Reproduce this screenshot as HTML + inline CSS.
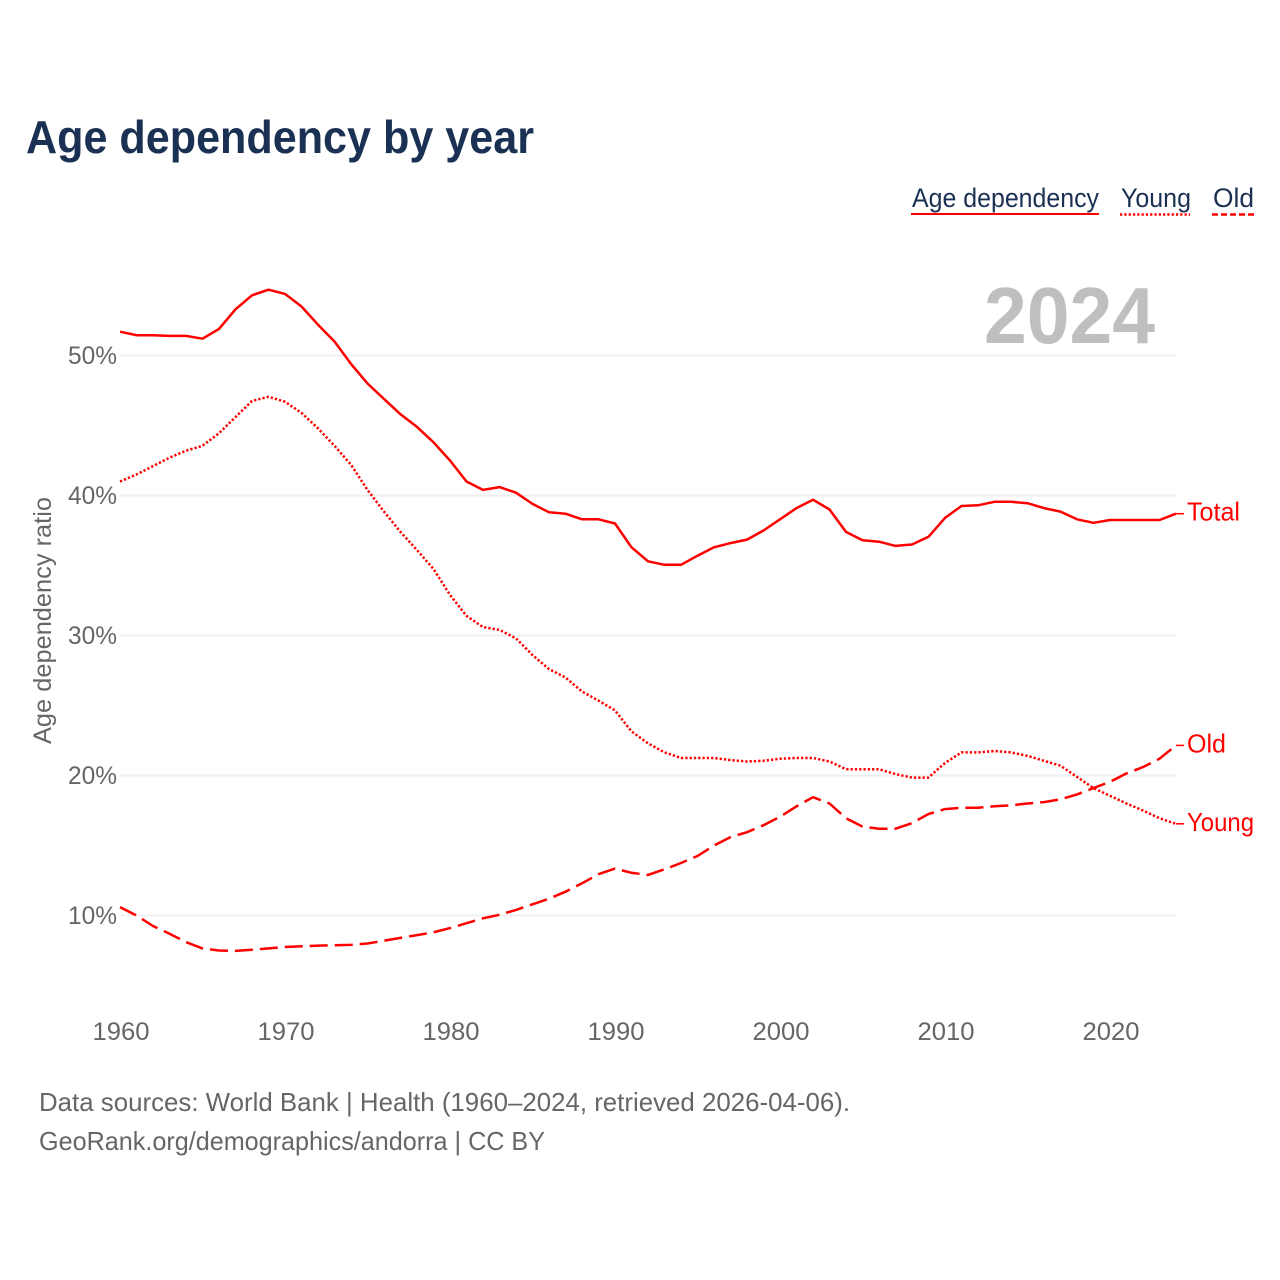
<!DOCTYPE html>
<html lang="en">
<head>
<meta charset="utf-8">
<title>Age dependency by year</title>
<style>
html,body{margin:0;padding:0;background:#fff;width:1280px;height:1280px;overflow:hidden}
svg{display:block}
text{font-family:"Liberation Sans",sans-serif}
</style>
</head>
<body>
<svg id="chart" width="1280" height="1280" viewBox="0 0 1280 1280" xmlns="http://www.w3.org/2000/svg">
  <text x="26" y="153" font-size="46" font-weight="700" fill="#1a3153" textLength="508" lengthAdjust="spacingAndGlyphs">Age dependency by year</text>

  <g font-size="27" fill="#1a3153">
    <g>
      <text x="912" y="207" textLength="187" lengthAdjust="spacingAndGlyphs">Age dependency</text>
      <line x1="911" y1="214" x2="1099" y2="214" stroke="#ff0000" stroke-width="2"/>
    </g>
    <g>
      <text x="1121" y="207" textLength="70" lengthAdjust="spacingAndGlyphs">Young</text>
      <line x1="1120" y1="214.500" x2="1190" y2="214.500" stroke="#ff0000" stroke-width="2.5" stroke-dasharray="2.3 2"/>
    </g>
    <g>
      <text x="1213" y="207" textLength="41" lengthAdjust="spacingAndGlyphs">Old</text>
      <line x1="1212" y1="214.500" x2="1254" y2="214.500" stroke="#ff0000" stroke-width="2.5" stroke-dasharray="6 3"/>
    </g>
  </g>

  <g id="grid"></g>
  <text x="1155" y="343" text-anchor="end" font-size="80" font-weight="700" fill="#bfbfbf" textLength="171" lengthAdjust="spacingAndGlyphs">2024</text>
  <g id="yticks"></g>
  <g id="xticks"></g>
  <text transform="translate(51 620.500) rotate(-90)" text-anchor="middle" font-size="25" fill="#666666" textLength="247" lengthAdjust="spacingAndGlyphs">Age dependency ratio</text>
  <g id="series"></g>

  <text x="39" y="1111" font-size="26" fill="#666666" textLength="811" lengthAdjust="spacingAndGlyphs">Data sources: World Bank | Health (1960–2024, retrieved 2026-04-06).</text>
  <text x="39" y="1150" font-size="26" fill="#666666" textLength="506" lengthAdjust="spacingAndGlyphs">GeoRank.org/demographics/andorra | CC BY</text>
</svg>
<script>
const firstYear = 1960;
const totalValues = [51.7,51.45,51.45,51.4,51.4,51.2,51.9,53.3,54.3,54.7,54.4,53.5,52.2,51,49.4,48,46.9,45.8,44.9,43.8,42.5,41,40.4,40.6,40.2,39.4,38.8,38.7,38.3,38.3,38,36.3,35.3,35.05,35.05,35.7,36.3,36.6,36.85,37.5,38.3,39.1,39.7,39,37.4,36.8,36.7,36.4,36.5,37.05,38.4,39.25,39.3,39.55,39.55,39.45,39.1,38.85,38.3,38.05,38.25,38.25,38.25,38.25,38.7];
const youngValues = [41,41.5,42.1,42.7,43.2,43.55,44.45,45.6,46.75,47.05,46.7,45.9,44.8,43.55,42.2,40.4,38.85,37.4,36.1,34.75,32.9,31.4,30.6,30.4,29.8,28.6,27.6,27,26,25.35,24.65,23.15,22.3,21.65,21.25,21.25,21.25,21.1,21,21.05,21.2,21.25,21.25,21,20.45,20.45,20.45,20.1,19.85,19.85,20.9,21.65,21.65,21.75,21.65,21.4,21.05,20.7,19.9,19.1,18.55,18,17.5,16.95,16.55];
const oldValues = [10.6,10,9.25,8.7,8.1,7.65,7.5,7.47,7.55,7.65,7.75,7.8,7.85,7.87,7.9,8,8.2,8.4,8.6,8.8,9.1,9.45,9.8,10.05,10.4,10.8,11.2,11.7,12.3,12.95,13.35,13.05,12.9,13.3,13.75,14.25,15,15.6,15.95,16.45,17.05,17.8,18.45,18,16.95,16.35,16.2,16.2,16.6,17.25,17.6,17.7,17.7,17.8,17.87,18,18.1,18.3,18.65,19.1,19.55,20.15,20.6,21.2,22.15];
const yTickValues = [10,20,30,40,50];
const xTickValues = [1960,1970,1980,1990,2000,2010,2020];

const NS = 'http://www.w3.org/2000/svg';
function xScale(year){ return 120 + (year - 1960) * 16.5; }
function yScale(v){ return 355.5 + (50 - v) * 14; }

const gridG = document.getElementById('grid');
const yG = document.getElementById('yticks');
yTickValues.forEach(function(v){
  const gl = document.createElementNS(NS,'line');
  
  
  gl.setAttribute('x1', 120);
  gl.setAttribute('x2', 1176);
  gl.setAttribute('y1', yScale(v));
  gl.setAttribute('y2', yScale(v));
  gl.setAttribute('stroke', '#f0f0f0');
  gl.setAttribute('stroke-width', 2);
  gridG.appendChild(gl);
  const t = document.createElementNS(NS,'text');
  
  
  t.setAttribute('x', 117);
  t.setAttribute('y', yScale(v) + 8.5);
  t.setAttribute('text-anchor', 'end');
  t.setAttribute('font-size', 25);
  t.setAttribute('fill', '#666666');
  t.setAttribute('textLength', 49);
  t.setAttribute('lengthAdjust', 'spacingAndGlyphs');
  t.textContent = v + '%';
  yG.appendChild(t);
});

const xG = document.getElementById('xticks');
xTickValues.forEach(function(y){
  const t = document.createElementNS(NS,'text');
  
  
  t.setAttribute('x', xScale(y) + 1);
  t.setAttribute('y', 1040);
  t.setAttribute('text-anchor', 'middle');
  t.setAttribute('font-size', 25);
  t.setAttribute('fill', '#666666');
  t.setAttribute('textLength', 57);
  t.setAttribute('lengthAdjust', 'spacingAndGlyphs');
  t.textContent = y;
  xG.appendChild(t);
});

function drawSeries(key, label, values, dash, labelWidth){
  const g = document.getElementById('series');
  const d = values.map(function(v,i){
    return (i ? 'L' : 'M') + xScale(firstYear + i).toFixed(1) + ' ' + yScale(v).toFixed(1);
  }).join(' ');
  const p = document.createElementNS(NS,'path');
  
  
  p.setAttribute('d', d);
  p.setAttribute('fill', 'none');
  p.setAttribute('stroke', '#ff0000');
  p.setAttribute('stroke-width', 2.5);
  p.setAttribute('stroke-linejoin', 'round');
  if (dash) p.setAttribute('stroke-dasharray', dash);
  g.appendChild(p);
  const lastX = xScale(firstYear + values.length - 1);
  const lastY = yScale(values[values.length - 1]);
  const c = document.createElementNS(NS,'line');
  
  
  c.setAttribute('x1', lastX);
  c.setAttribute('x2', lastX + 8);
  c.setAttribute('y1', lastY);
  c.setAttribute('y2', lastY);
  c.setAttribute('stroke', '#ff0000');
  c.setAttribute('stroke-width', 1.5);
  g.appendChild(c);
  const t = document.createElementNS(NS,'text');
  
  
  t.setAttribute('x', lastX + 11);
  t.setAttribute('y', lastY + 7);
  t.setAttribute('font-size', 26);
  t.setAttribute('fill', '#ff0000');
  t.setAttribute('textLength', labelWidth);
  t.setAttribute('lengthAdjust', 'spacingAndGlyphs');
  t.textContent = label;
  g.appendChild(t);
}
drawSeries('total', 'Total', totalValues, null, 53);
drawSeries('young', 'Young', youngValues, '2.3 2', 67);
drawSeries('old', 'Old', oldValues, '18 7', 39);
</script>
</body>
</html>
